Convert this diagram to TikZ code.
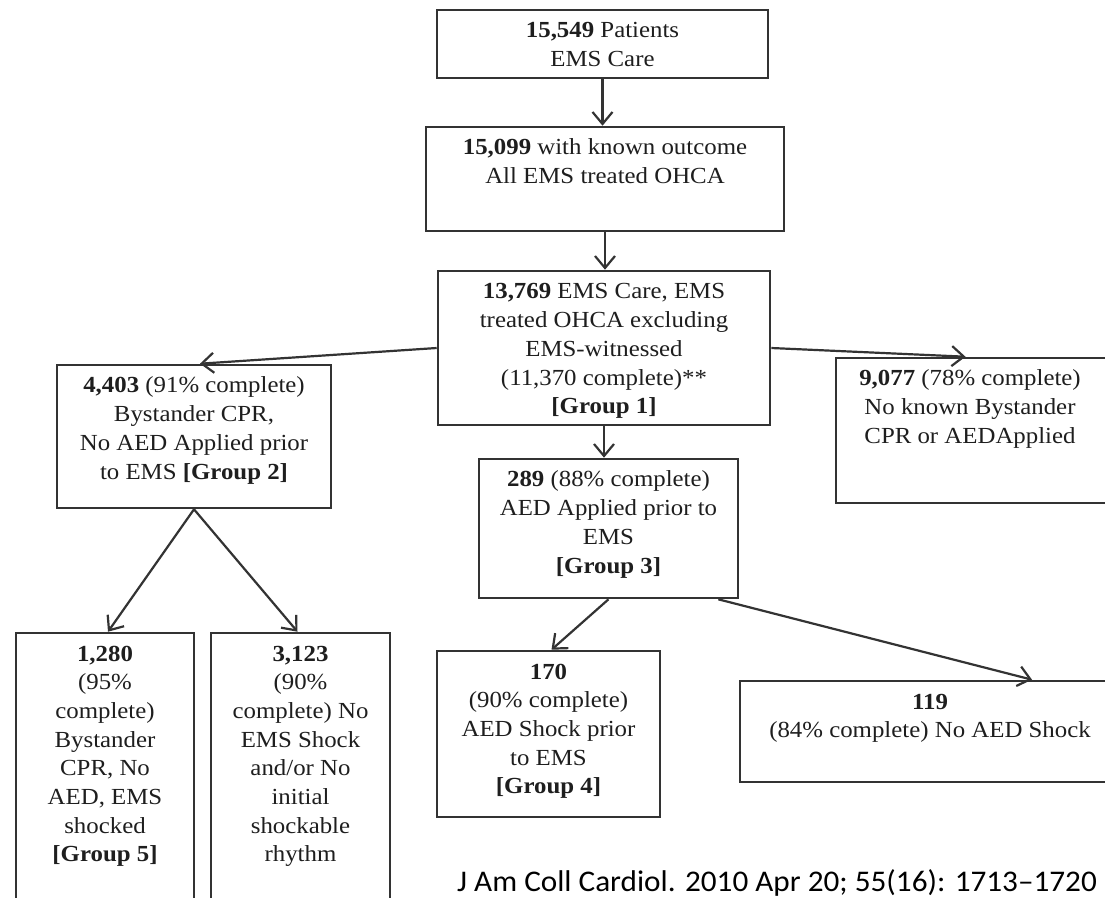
\documentclass[tikz,border=0pt]{standalone}
\usepackage{fontspec}
\setmainfont{Liberation Serif}[FakeStretch=1.08]
\newfontfamily\citefont{Carlito}[FakeStretch=1.04]
\usetikzlibrary{arrows.meta}
\definecolor{linegray}{HTML}{333333}
\definecolor{txt}{HTML}{1E1E1E}
\tikzset{
  box/.style={draw=linegray, line width=2.6pt, inner sep=0pt, fill=none},
  boxtext/.style={anchor=north, inner sep=0pt, align=center, text=txt,
    font=\fontsize{23}{28.7}\selectfont, yshift=-9pt},
  arr/.style={draw=linegray, line width=2.2pt,
    -{Straight Barb[length=12pt,width=20pt,line width=2.2pt]}},
}
\begin{document}
\begin{tikzpicture}[x=1pt,y=-1pt]
\fill[white] (0,0) rectangle (1105,897);
\useasboundingbox (0,0) rectangle (1105,897);
\clip (0,0) rectangle (1105,897);

% boxes
\node[box, minimum width=331pt, minimum height=68pt]  (A) at (602.5,44) {};
\node[box, minimum width=358pt, minimum height=104pt] (B) at (605,179) {};
\node[box, minimum width=332pt, minimum height=154pt] (C) at (604,348) {};
\node[box, minimum width=274pt, minimum height=143pt] (D) at (194,436.5) {};
\node[box, minimum width=271pt, minimum height=145pt] (E) at (971.5,430.5) {};
\node[box, minimum width=259pt, minimum height=139pt] (F) at (608.5,528.5) {};
\node[box, minimum width=178pt, minimum height=272pt] (G) at (105,769) {};
\node[box, minimum width=179pt, minimum height=272pt] (H) at (300.5,769) {};
\node[box, minimum width=223pt, minimum height=166pt] (I) at (548.5,734) {};
\node[box, minimum width=380pt, minimum height=101pt] (J) at (930,731.5) {};

% texts
\node[boxtext] (tA) at (A.north) {\strut\textbf{15,549} Patients\\EMS Care};
\node[boxtext] (tB) at (B.north) {\strut\textbf{15,099} with known outcome\\All EMS treated OHCA};
\node[boxtext] (tC) at (C.north) {\strut\textbf{13,769} EMS Care, EMS\\treated OHCA excluding\\EMS-witnessed\\(11,370 complete)**\\\textbf{[Group 1]}};
\node[boxtext] (tD) at (D.north) {\strut\textbf{4,403} (91\% complete)\\Bystander CPR,\\No AED Applied prior\\to EMS \textbf{[Group 2]}};
\node[boxtext, xshift=-1.5pt] (tE) at (E.north) {\strut\textbf{9,077} (78\% complete)\\No known Bystander\\CPR or AEDApplied};
\node[boxtext] (tF) at (F.north) {\strut\textbf{289} (88\% complete)\\AED Applied prior to\\EMS\\\textbf{[Group 3]}};
\node[boxtext] (tG) at (G.north) {\strut\textbf{1,280}\\(95\%\\complete)\\Bystander\\CPR, No\\AED, EMS\\shocked\\\textbf{[Group 5]}};
\node[boxtext] (tH) at (H.north) {\strut\textbf{3,123}\\(90\%\\complete) No\\EMS Shock\\and/or No\\initial\\shockable\\rhythm};
\node[boxtext] (tI) at (I.north) {\strut\textbf{170}\\(90\% complete)\\AED Shock prior\\to EMS\\\textbf{[Group 4]}};
\node[boxtext] (tJ) at (J.north) {\strut\textbf{119}\\(84\% complete) No AED Shock};

% citation
\node[anchor=base west, inner sep=0pt, font=\citefont\fontsize{30}{36}\selectfont, text=black]
  (cite) at (457,891) {J Am Coll Cardiol. 2010 Apr 20; 55(16): 1713–1720};

% connectors
\draw[arr] (A.south) -- (A.south |- B.north);
\draw[arr] (B.south) -- (B.south |- C.north);
\draw[arr] (C.west) -- ([xshift=6pt]D.north);
\draw[arr] (C.east) -- ([xshift=-6pt]E.north);
\draw[arr] (C.south) -- (C.south |- F.north);
\draw[arr] (D.south) -- ([xshift=3pt]G.north);
\draw[arr] (D.south) -- ([xshift=-3pt]H.north);
\draw[arr] (F.south) -- ([xshift=3pt]I.north);
\draw[arr] ([xshift=-21pt]F.south east) -- ([xshift=102pt]J.north);
\end{tikzpicture}
\end{document}
